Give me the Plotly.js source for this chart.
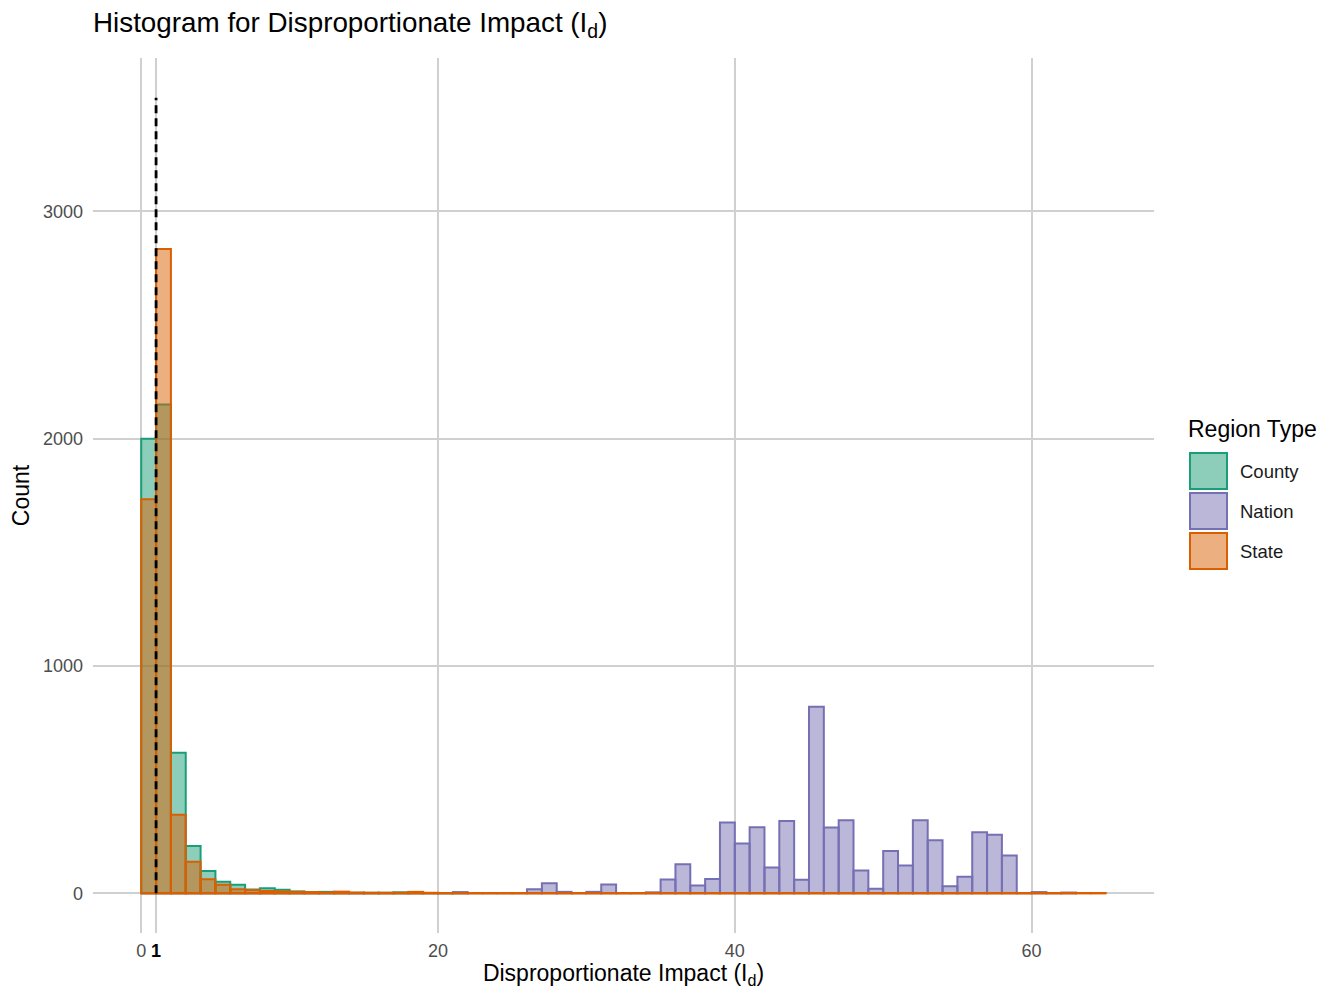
<!DOCTYPE html>
<html>
<head>
<meta charset="utf-8">
<script src="https://cdn.plot.ly/plotly-3.0.1.min.js"></script>
<style>html,body{margin:0;padding:0;background:#fff;}#chart{width:1337px;height:989px;}</style>
</head>
<body>
<div id="chart"></div>
<script>
// Bin left edges (bin width 1), counts per region type
const binEdges = [];
for (let i = 0; i <= 65; i++) binEdges.push(i);

const countyCounts = [2000, 2150, 618, 208, 98, 51, 37, 16, 22, 15, 8, 5, 6, 3, 2, 2, 2, 4, 1, 1, 1, 1];
const stateCounts = [1733, 2835, 345, 139, 62, 37, 18, 14, 10, 8, 6, 5, 3, 7, 3, 2, 2, 2, 6, 2, 1, 1, 1, 1, 1, 1, 1, 1, 1, 1, 1, 1, 1, 1, 1, 1, 1, 1, 1, 1, 1, 1, 1, 1, 1, 1, 1, 1, 1, 1, 1, 1, 1, 1, 1, 1, 1, 1, 1, 1, 1, 1, 1, 1, 1];
const nationCounts = [0,0,0,0,0,0,0,0,0,0, 0,0,0,0,0,0,0,0,0,0, 0,5,0,0,0,0,17,44,6,0, 6,38,0,0,4,60,128,34,63,311, 219,290,113,318,59,821,289,321,100,20, 186,122,321,233,31,72,268,257,166,0, 5,0,3];

const regionNames = ["County", "Nation", "State"];
const lineColors = ["#1b9e77", "#7570b3", "#d95f02"];
const fillColors = ["rgba(27,158,119,0.5)", "rgba(117,112,179,0.5)", "rgba(217,95,2,0.5)"];
const threshold = 1;
const thresholdTop = 3500;

const xTickVals = [0, 1, 20, 40, 60];
const xTickText = ["0", '<span style="color:#000000"><b>1</b></span>', "20", "40", "60"];
const yTickVals = [0, 1000, 2000, 3000];

const allCounts = [countyCounts, nationCounts, stateCounts];

const traces = allCounts.map((counts, k) => ({
  type: "bar",
  x: counts.map((_, i) => binEdges[i] + 0.5),
  y: counts,
  width: 1,
  name: regionNames[k],
  marker: {color: fillColors[k], line: {color: lineColors[k], width: 2}},
  showlegend: false,
  hoverinfo: "x+y+name"
}));

// zero-height outlines along the baseline (state drawn on top)
traces.push({
  type: "scatter", mode: "lines",
  x: [binEdges[0], binEdges[binEdges.length - 1]],
  y: [0, 0],
  line: {color: lineColors[2], width: 2.2},
  showlegend: false, hoverinfo: "skip"
});

// plot area in pixels
const L = 93, R = 1154, T = 58, B = 933;
const px = v => (v - L) / (R - L);
const py = v => (B - v) / (B - T);
const FONT = "Liberation Sans, Arial, sans-serif";

const shapes = [{
  type: "line", xref: "x", yref: "y",
  x0: threshold, x1: threshold, y0: 0, y1: thresholdTop,
  line: {color: "#000000", width: 2.8, dash: "8px,5px"}
}];
const annotations = [{
  xref: "paper", yref: "paper", x: px(1186), y: py(429),
  xanchor: "left", yanchor: "middle", showarrow: false,
  text: "Region Type", font: {family: FONT, size: 23, color: "#000"}
}];
regionNames.forEach((n, k) => {
  const top = 453 + k * 40;
  shapes.push({
    type: "rect", xref: "paper", yref: "paper",
    x0: px(1190), x1: px(1227), y0: py(top + 36), y1: py(top),
    fillcolor: fillColors[k], line: {color: lineColors[k], width: 2}
  });
  annotations.push({
    xref: "paper", yref: "paper", x: px(1238), y: py(top + 18),
    xanchor: "left", yanchor: "middle", showarrow: false,
    text: n, font: {family: FONT, size: 18.5, color: "#1a1a1a"}
  });
});

const layout = {
  width: 1337, height: 989,
  margin: {l: L, r: 1337 - R, t: T, b: 989 - B},
  paper_bgcolor: "#ffffff", plot_bgcolor: "#ffffff",
  barmode: "overlay", bargap: 0,
  font: {family: FONT},
  title: {
    text: "Histogram for Disproportionate Impact (I<sub>d</sub>)",
    x: 0, xref: "paper", xanchor: "left",
    y: 1 - 22 / 989, yref: "container", yanchor: "middle",
    font: {size: 27.8, color: "#000000"}
  },
  xaxis: {
    range: [-3.25, 68.25],
    tickmode: "array", tickvals: xTickVals, ticktext: xTickText,
    showgrid: true, gridcolor: "#d0d0d0", gridwidth: 2,
    zeroline: false, showline: false, ticks: "",
    tickfont: {size: 18, color: "#4d4d4d"},
    ticklabelstandoff: 5,
    title: {text: "Disproportionate Impact (I<sub>d</sub>)", font: {size: 23, color: "#000"}, standoff: 4}
  },
  yaxis: {
    range: [-175, 3675],
    tickmode: "array", tickvals: yTickVals,
    showgrid: true, gridcolor: "#d0d0d0", gridwidth: 2,
    zeroline: false, showline: false, ticks: "",
    tickfont: {size: 18, color: "#4d4d4d"},
    ticklabelstandoff: 9,
    title: {text: "Count", font: {size: 23, color: "#000"}, standoff: 6}
  },
  shapes: shapes,
  annotations: annotations,
  showlegend: false
};

Plotly.newPlot("chart", traces, layout, {displayModeBar: false, staticPlot: true});
</script>
</body>
</html>
